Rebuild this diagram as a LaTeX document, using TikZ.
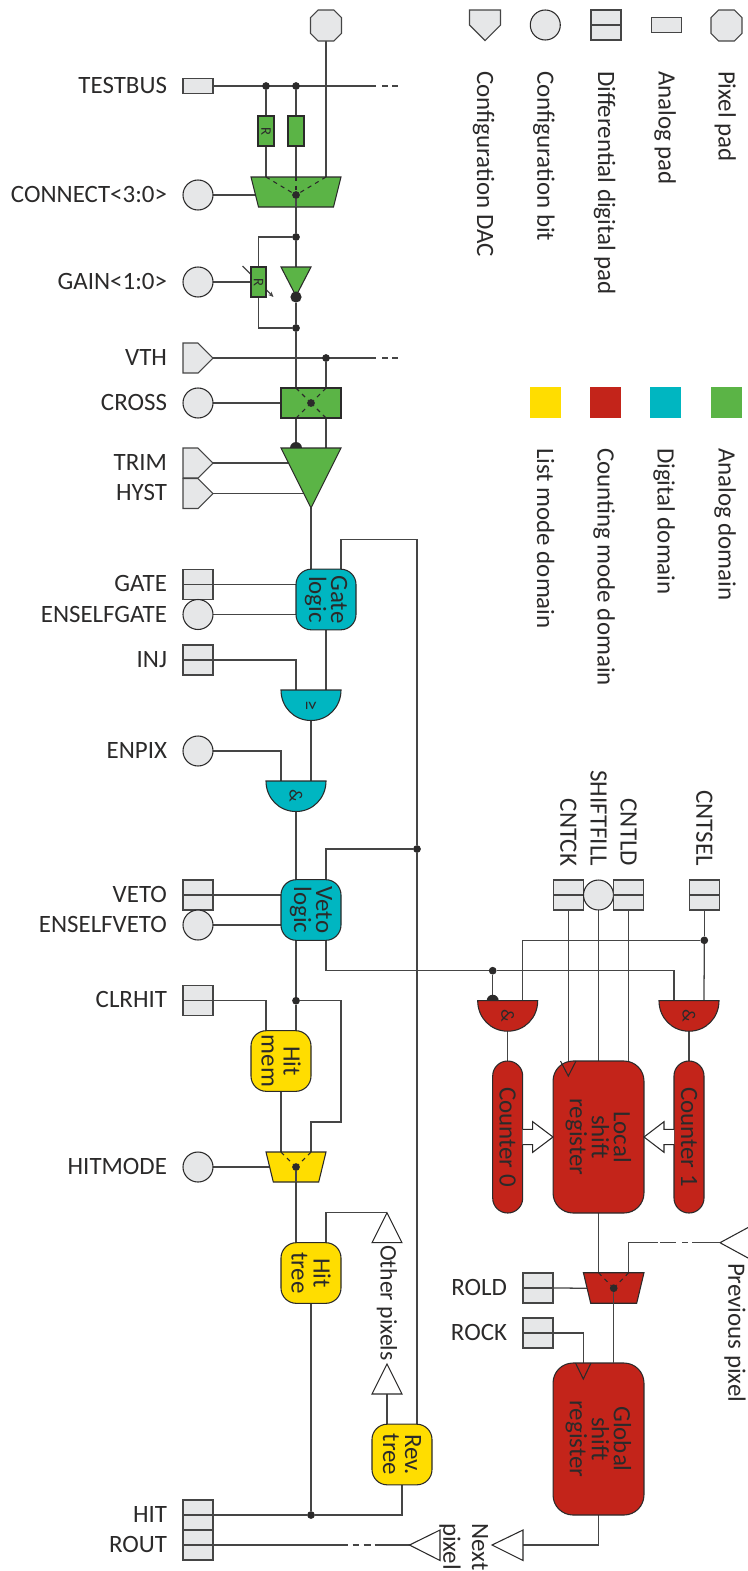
\documentclass[tikz,border=0pt]{standalone}
\usepackage{fontspec}
\setmainfont{Carlito}
\usetikzlibrary{arrows.meta,calc}
\definecolor{ink}{HTML}{2B2A2A}
\definecolor{linec}{HTML}{454545}
\definecolor{padc}{HTML}{E6E7E8}
\definecolor{gr}{HTML}{5BB446}
\definecolor{cy}{HTML}{00B6C1}
\definecolor{rd}{HTML}{C3241A}
\definecolor{ye}{HTML}{FFDD00}
\pgfdeclarelayer{back}
\pgfsetlayers{back,main}
\newcommand\fsz{\fontsize{18.7}{16.5}\selectfont}
\tikzset{
 x=.75pt,y=-.75pt,
 conn/.style={draw=linec,line width=.95pt},
 outl/.style={draw=ink,line width=.8pt,line join=miter},
 padl/.style={draw=linec,line width=.8pt,line join=miter},
 dashl/.style={draw=ink,line width=.8pt,dash pattern=on 3.2pt off 3.2pt},
 dot/.style={circle,fill=ink,minimum size=5.8pt,inner sep=0,outer sep=0},
 apad/.style={rectangle,padl,fill=padc,minimum width=22.5pt,minimum height=11.25pt,inner sep=0,outer sep=0},
 dpad/.style={rectangle,padl,fill=padc,minimum width=22.5pt,minimum height=22.5pt,inner sep=0,outer sep=0},
 cbit/.style={circle,outl,fill=padc,minimum size=22.5pt,inner sep=0,outer sep=0},
 rbox/.style={rectangle,outl,minimum width=#1,inner sep=0,outer sep=0},
 lbl/.style={text=ink,font=\fsz,inner sep=0,outer sep=0},
 vtxt/.style={text=ink,font=\fsz,inner sep=0,outer sep=0,rotate=-90,align=center},
 small/.style={text=ink,inner sep=0,outer sep=0,rotate=-90},
}
% pads
\newcommand\dfp[3]{\node[dpad] (#1) at (#2,#3) {}; \draw[padl] (#1.west) -- (#1.east);}
\newcommand\dac[3]{% name, left x, centre y
 \draw[padl,fill=padc] (#2,#3-15) -- ++(15,0) -- ++(15,15) -- ++(-15,15) -- ++(-15,0) -- cycle;
 \coordinate (#1) at (#2+30,#3);}
\newcommand\octo[3]{% name, cx, cy
 \draw[padl,fill=padc] (#2-7.8,#3-15.5) -- (#2+7.8,#3-15.5) -- (#2+15.5,#3-7.8) -- (#2+15.5,#3+7.8) -- (#2+7.8,#3+15.5) -- (#2-7.8,#3+15.5) -- (#2-15.5,#3+7.8) -- (#2-15.5,#3-7.8) -- cycle;
 \coordinate (#1) at (#2,#3+15.5);}
\newcommand\muxs[8]{% name, cx, ytop, halftop, halfbot, height, fill, dot depth
 \draw[outl,fill=#7] (#2-#4,#3) -- (#2+#4,#3) -- (#2+#5,#3+#6) -- (#2-#5,#3+#6) -- cycle;
 \coordinate (#1t) at (#2,#3);
 \coordinate (#1b) at (#2,#3+#6);
 \coordinate (#1l) at (#2-#4+3.5,#3+#8);
 \node[dot] (#1) at (#2,#3+#8) {};}
\newcommand\andg[6]{% name, cx, ytop, fill, text, text size
 \draw[outl,fill=#4] (#2-30,#3) -- (#2+30,#3) .. controls (#2+30,#3+17) and (#2+17,#3+30.5) .. (#2,#3+30.5) .. controls (#2-17,#3+30.5) and (#2-30,#3+17) .. (#2-30,#3) -- cycle;
 \coordinate (#1t) at (#2,#3);
 \coordinate (#1b) at (#2,#3+30.5);
 \node[small,font=\fontsize{#6}{#6}\selectfont] (#1x) at (#2,#3+15) {#5};}
\begin{document}
\begin{tikzpicture}
\useasboundingbox (0,0) rectangle (748,1571);
% ===== pads left column =====
\octo{px}{326}{25.5}
\node[apad] (testbus) at (198,86) {};
\node[cbit] (connect) at (198,195) {};
\node[cbit] (gain) at (198,282) {};
\dac{vth}{183}{358}
\node[cbit] (cross) at (198,403) {};
\dac{trim}{183}{463}
\dac{hyst}{183}{493.5}
\dfp{gatep}{198}{584.5}
\node[cbit] (enselfgate) at (198,614.5) {};
\dfp{inj}{198}{660}
\node[cbit] (enpix) at (198,751) {};
\dfp{veto}{198}{895}
\node[cbit] (enselfveto) at (198,925) {};
\dfp{clrhit}{198}{1000.7}
\node[cbit] (hitmode) at (198,1167) {};
\dfp{hit}{198}{1515}
\dfp{rout}{198}{1545}
% labels
\foreach \n/\t/\y in {a/TESTBUS/86,b/CONNECT<3:0>/195,c/GAIN<1:0>/282,d/VTH/358,e/CROSS/403,f/TRIM/463,g/HYST/493.5,h/GATE/584.5,i/ENSELFGATE/615,j/INJ/660,k/ENPIX/751,l/VETO/895,m/ENSELFVETO/925,n/CLRHIT/1000,o/HITMODE/1167,p/HIT/1515,q/ROUT/1545}
 \node[lbl,anchor=base east] (lbl\n) at (167,\y+7.3) {\t};
% ===== analog chain =====
\node[dot] (j1) at (266,86) {};
\node[dot] (j2) at (296,86) {};
\node[rbox=12pt,minimum height=22.5pt,fill=gr] (r1) at (266,131) {};
\node[small,font=\fontsize{11}{11}\selectfont] (r1t) at (r1) {R};
\node[rbox=12pt,minimum height=22.5pt,fill=gr] (r2) at (296,131) {};
\muxs{mc}{296}{177}{45}{37.5}{30}{gr}{18}
\node[dot] (j3) at (296,237) {};
\node[rbox=11.25pt,minimum height=22.5pt,fill=gr] (r3) at (258.5,282) {};
\node[small,font=\fontsize{11}{11}\selectfont] (r3t) at (r3) {R};
\draw[outl,fill=gr] (281,267) -- (311,267) -- (296,296) -- cycle;
\coordinate (buft) at (296,267);
\node[circle,fill=ink,minimum size=8.4pt,inner sep=0] (bub) at (296,297) {};
\node[dot] (j4) at (296,328) {};
\node[dot] (j5) at (326,358) {};
\node[rbox=45pt,minimum height=22.5pt,fill=gr] (xb) at (311,403) {};
\node[dot] (xd) at (311,403) {};
\draw[outl,fill=gr] (281,448) -- (341,448) -- (311,508) -- cycle;
\coordinate (cmpo) at (311,508);
\coordinate (cmpt) at (311,448);
\coordinate (cmpa) at (288.5,463);
\coordinate (cmpb) at (303.7,493.5);
% ===== digital =====
\node[rbox=45pt,minimum height=45.5pt,fill=cy,rounded corners=11.5pt] (gl) at (326,599.5) {};
\node[vtxt] (glt) at (gl) {Gate\\logic};
\andg{ov}{311}{690}{cy}{≥}{15}
\andg{an}{296}{781}{cy}{\&}{14}
\node[rbox=45pt,minimum height=45.5pt,fill=cy,rounded corners=11.5pt] (vl) at (311,910) {};
\node[vtxt] (vlt) at (vl) {Veto\\logic};
\node[dot] (j6) at (417,849) {};
\node[dot] (j7) at (296,1000.7) {};
% ===== list mode =====
\node[rbox=45pt,minimum height=45.5pt,fill=ye,rounded corners=11.5pt] (hm) at (281,1061) {};
\node[vtxt] (hmt) at (hm) {Hit\\mem};
\muxs{mh}{296}{1152}{30}{22.7}{30}{ye}{15}
\node[rbox=45pt,minimum height=45.5pt,fill=ye,rounded corners=11.5pt] (ht) at (311,1273) {};
\node[vtxt] (htt) at (ht) {Hit\\tree};
\node[rbox=45pt,minimum height=45.5pt,fill=ye,rounded corners=11.5pt] (rt) at (402,1454.5) {};
\node[vtxt] (rtt) at (rt) {Rev.\\tree};
\draw[outl,fill=white] (387,1212.7) -- (402,1242.7) -- (372,1242.7) -- cycle;
\coordinate (otop) at (387,1212.7);
\draw[outl,fill=white] (387,1364) -- (402,1394) -- (372,1394) -- cycle;
\coordinate (obot) at (387,1394);
\node[vtxt,anchor=west,font=\fontsize{17.8}{16.5}\selectfont] (other) at (387,1245) {Other pixels};
\node[dot] (j8) at (311,1515) {};
% ===== counting =====
\dfp{cntck}{568.3}{895}
\node[cbit] (shift) at (598.5,895) {};
\dfp{cntld}{628.7}{895}
\dfp{cntsel}{704.3}{895}
\node[vtxt,anchor=east] (l1) at (568.3,866) {CNTCK};
\node[vtxt,anchor=east] (l2) at (598.5,866) {SHIFTFILL};
\node[vtxt,anchor=east] (l3) at (628.7,866) {CNTLD};
\node[vtxt,anchor=east] (l4) at (704.3,866) {CNTSEL};
\node[dot] (j9) at (704.3,940.3) {};
\node[dot] (j10) at (492.7,970.7) {};
\andg{a0}{507.7}{1000.7}{rd}{\&}{14}
\andg{a1}{689}{1000.7}{rd}{\&}{14}
\node[rbox=22.5pt,minimum height=114pt,fill=rd,rounded corners=11.2pt] (c0) at (507.7,1137) {};
\node[vtxt] (c0t) at (c0) {Counter 0};
\node[rbox=22.5pt,minimum height=114pt,fill=rd,rounded corners=11.2pt] (c1) at (689,1137) {};
\node[vtxt] (c1t) at (c1) {Counter 1};
\node[rbox=68.2pt,minimum height=114pt,fill=rd,rounded corners=15pt] (ls) at (598.5,1137) {};
\node[vtxt] (lst) at (ls) {Local\\shift\\register};
\draw[outl] (560.5,1061) -- (568.3,1076) -- (576,1061);
\muxs{mr}{613.7}{1272.7}{30.3}{23}{30.5}{rd}{15.5}
\dfp{rold}{538}{1288}
\dfp{rock}{538}{1333}
\node[lbl,anchor=base east] (lr1) at (507,1295.3) {ROLD};
\node[lbl,anchor=base east] (lr2) at (507,1340.3) {ROCK};
\node[rbox=68.2pt,minimum height=114pt,fill=rd,rounded corners=15pt] (gs) at (598.5,1439) {};
\node[vtxt] (gst) at (gs) {Global\\shift\\register};
\draw[outl] (575.5,1363) -- (583.3,1379) -- (591,1363);
% triangles
\draw[outl,fill=white] (720,1242.7) -- (749,1227) (720,1242.7) -- (749,1258.5);
\coordinate (prev) at (720,1242.7);
\node[vtxt,anchor=west] (prevt) at (735,1263) {Previous pixel};
\draw[outl,fill=white] (492,1545) -- (523,1530) -- (523,1560.5) -- cycle;
\coordinate (nx) at (523,1545);
\draw[outl,fill=white] (409.5,1545) -- (440,1530) -- (440,1560.5) -- cycle;
\coordinate (nxp) at (409.5,1545);
\node[vtxt,anchor=west] (nt1) at (480,1523) {Next};
\node[vtxt,anchor=west] (nt2) at (450,1523) {pixel};
% block arrows
\draw[outl,fill=white] (522.7,1129.3) -- (532.7,1129.3) -- (532.7,1121.7) -- (553,1137) -- (532.7,1152.3) -- (532.7,1144.7) -- (522.7,1144.7);
\draw[outl,fill=white] (674,1129.3) -- (664,1129.3) -- (664,1121.7) -- (644,1137) -- (664,1152.3) -- (664,1144.7) -- (674,1144.7);
% free ends of the dashed stubs
\coordinate (tbe) at (376,86);
\coordinate (tbd1) at (382,86);\coordinate (tbd2) at (388,86);\coordinate (tbd3) at (392,86);\coordinate (tbd4) at (398,86);
\coordinate (vte) at (376,358);
\coordinate (vtd1) at (382,358);\coordinate (vtd2) at (388,358);\coordinate (vtd3) at (392,358);\coordinate (vtd4) at (398,358);
% ===== connectors behind =====
\begin{pgfonlayer}{back}
\draw[conn] (testbus.east) -- (tbe) (tbd1) -- (tbd2) (tbd3) -- (tbd4);
\draw[conn] (j1) -- (r1.north);
\draw[conn] (r1.south) -- ([xshift=-22.5pt]mct);
\draw[conn,line width=1.1pt] (j2) -- (r2.north);
\draw[conn,line width=1.1pt] (r2.south) -- (mct);
\draw[conn] (px) -- ([xshift=22.5pt]mct);
\draw[conn] (connect.east) -- (mcl);
\draw[conn] (mcb) -- (j3);
\draw[conn] (j3) -- (buft);
\draw[conn] (j3) -| (r3.north);
\draw[conn] (r3.south) |- (j4);
\draw[conn] (gain.east) -- (r3.west);
\draw[conn,-{Stealth[length=4pt,width=3.5pt]}] ($(r3)+(-16,-16)$) -- ($(r3)+(15,15)$);
\draw[conn] (bub) -- (j4);
\draw[conn] (j4) -- ([xshift=-11.25pt]xb.north);
\draw[conn] (vth) -- (vte) (vtd1) -- (vtd2) (vtd3) -- (vtd4);
\draw[conn] (j5) -- ([xshift=11.25pt]xb.north);
\draw[conn] (cross.east) -- (xb.west);
\draw[conn] ([xshift=-11.25pt]xb.south) -- ($(cmpt)+(-15,0)$);
\draw[conn] ([xshift=11.25pt]xb.south) -- ($(cmpt)+(15,0)$);
\fill[ink] ($(cmpt)+(-15,0)$) circle [radius=4.5pt];
\draw[conn] (trim) -- (cmpa);
\draw[conn] (hyst) -- (cmpb);
\draw[conn] (cmpo) -- ([xshift=-11.25pt]gl.north);
\draw[conn] ([xshift=11.25pt]gl.north) |- ($(j6|-gl.north)+(0,-30)$) -- (j6);
\draw[conn] (gatep.east) -- ([yshift=11.25pt]gl.west);
\draw[conn] (enselfgate.east) -- ([yshift=-11.25pt]gl.west);
\draw[conn] (inj.east) -| ($(ovt)+(-15,0)$);
\draw[conn] (gl.south) -- ($(ovt)+(15,0)$);
\draw[conn] (ovb) -- ($(ant)+(15,0)$);
\draw[conn] (enpix.east) -| ($(ant)+(-15,0)$);
\draw[conn] (anb) -- ([xshift=-11.25pt]vl.north);
\draw[conn] ([xshift=11.25pt]vl.north) |- (j6);
\draw[conn] (j6) -- ([xshift=11.25pt]rt.north);
\draw[conn] (veto.east) -- ([yshift=11.25pt]vl.west);
\draw[conn] (enselfveto.east) -- ([yshift=-11.25pt]vl.west);
\draw[conn] ([xshift=-11.25pt]vl.south) -- (j7);
\draw[conn] (j7) -- ([xshift=11.25pt]hm.north);
\draw[conn] ([xshift=11.25pt]vl.south) |- (j10);
\draw[conn] (j10) -| ($(a1t)+(-15,0)$);
\draw[conn] (j10) -- ($(a0t)+(-15,0)$);
\fill[ink] ($(a0t)+(-15,0)$) circle [radius=4.5pt];
\draw[conn] (clrhit.east) -| ([xshift=-11.25pt]hm.north);
\draw[conn] (j7) -| ($(mht)+(45,-30)$) -| ($(mht)+(15,0)$);
\draw[conn] (hm.south) -- ($(mht)+(-15,0)$);
\draw[conn] (hitmode.east) -- (mhl);
\draw[conn] (mhb) -- ([xshift=-11.25pt]ht.north);
\draw[conn] ([xshift=11.25pt]ht.north) |- (otop);
\draw[conn] (ht.south) -- (j8);
\draw[conn] (hit.east) -- (j8);
\draw[conn] (j8) -| (rt.south);
\draw[conn] ([xshift=-11.25pt]rt.north) -- (obot);
\draw[conn] (cntck.south) -- (cntck.south|-ls.north);
\draw[conn] (shift.south) -- (ls.north);
\draw[conn] (cntld.south) -- (cntld.south|-ls.north);
\draw[conn] (cntsel.south) -- (j9);
\draw[conn] (j9) -- ($(a1t)+(15,0)$);
\draw[conn] (j9) -| ($(a0t)+(15,0)$);
\draw[conn] (a0b) -- (c0.north);
\draw[conn] (a1b) -- (c1.north);
\draw[conn] (ls.south) -- ($(mrt)+(-15.2,0)$);
\draw[conn] ($(mrt)+(15,0)$) |- ($(prev)+(-62,0)$);
\draw[conn] ($(prev)+(-60,0)$) -- ($(prev)+(-44,0)$);
\draw[conn] ($(prev)+(-38,0)$) -- ($(prev)+(-32,0)$);
\draw[conn] ($(prev)+(-28,0)$) -- (prev);
\draw[conn] (rold.east) -- (mrl);
\draw[conn] (rock.east) -| ($(gs.north)+(-15.2,0)$);
\draw[conn] (gs.south) |- (nx);
\draw[conn] (rout.east) -- ($(nxp)+(-62,0)$);
\draw[conn] ($(nxp)+(-57,0)$) -- ($(nxp)+(-51,0)$);
\draw[conn] ($(nxp)+(-46,0)$) -- ($(nxp)+(-39,0)$);
\draw[conn] ($(nxp)+(-35,0)$) -- (nxp);
\end{pgfonlayer}
% ===== inside the selectors =====
\draw[dashl] ([xshift=-22.5pt]mct) -- (mc);
\draw[dashl] (mct) -- (mc);
\draw[dashl] ([xshift=22.5pt]mct) -- (mc);
\draw[conn] (mc) -- (mcb);
\draw[dashl] ([xshift=-11.25pt]xb.north) -- (xd);
\draw[dashl] ([xshift=11.25pt]xb.north) -- (xd);
\draw[dashl] ([xshift=-11.25pt]xb.south) -- (xd);
\draw[dashl] ([xshift=11.25pt]xb.south) -- (xd);
\draw[dashl] ($(mht)+(-15,0)$) -- (mh);
\draw[dashl] ($(mht)+(15,0)$) -- (mh);
\draw[conn] (mh) -- (mhb);
\draw[dashl] ($(mrt)+(-15.2,0)$) -- (mr);
\draw[dashl] ($(mrt)+(15,0)$) -- (mr);
\draw[conn] (mr) -- (gs.north-|mr);
% ===== legend =====
\draw[padl,fill=padc] (469.5,10) -- (500.5,10) -- (500.5,25) -- (485,40.5) -- (469.5,25) -- cycle;
\node[cbit] (lg2) at (545.3,25) {};
\dfp{lg3}{606}{25}
\node[apad] (lg4) at (666.5,25.3) {};
\octo{lg5}{726.5}{25.5}
\foreach \n/\t/\xx in {a/Configuration DAC/485,b/Configuration bit/545.3,c/Differential digital pad/606,d/Analog pad/666.5,e/Pixel pad/726.5}
 \node[vtxt,anchor=base west] (lt\n) at (\xx-8,71) {\t};
\foreach \n/\c/\t/\xx in {a/ye/List mode domain/545,b/rd/Counting mode domain/605.5,c/cy/Digital domain/665.7,d/gr/Analog domain/726.5}{
 \fill[\c] (\xx-15.5,387) rectangle (\xx+15.5,418);
 \node[vtxt,anchor=base west] (lq\n) at (\xx-8,448) {\t};}
\end{tikzpicture}
\end{document}
